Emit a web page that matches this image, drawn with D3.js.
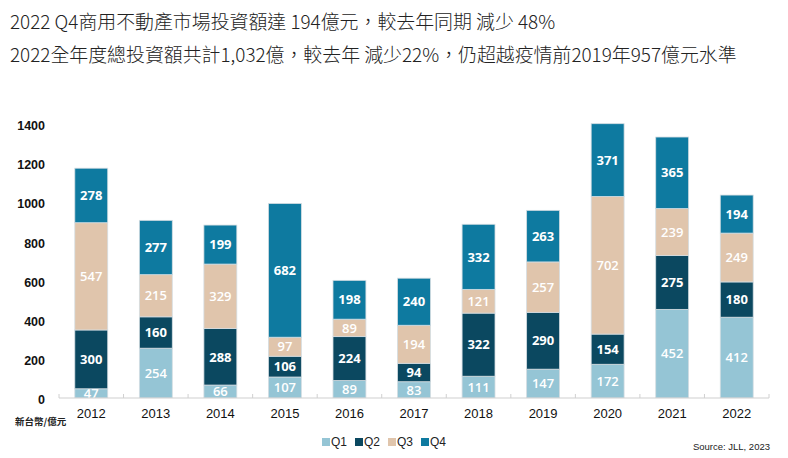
<!DOCTYPE html>
<html><head><meta charset="utf-8">
<script src="https://cdn.jsdelivr.net/npm/d3@7"></script>
<style>body{margin:0;background:#fff}svg{display:block}</style>
</head><body><svg id="c" width="788" height="458"></svg>
<script>
const years = ["2012","2013","2014","2015","2016","2017","2018","2019","2020","2021","2022"];
const q1 = [47,254,66,107,89,83,111,147,172,452,412];
const q2 = [300,160,288,106,224,94,322,290,154,275,180];
const q3 = [547,215,329,97,89,194,121,257,702,239,249];
const q4 = [278,277,199,682,198,240,332,263,371,365,194];
const seriesNames = ["Q1","Q2","Q3","Q4"];
const colors = ["#95c5d5","#0b4860","#e0c5ac","#0e7aa0"];
const yTicks = [0,200,400,600,800,1000,1200,1400];
const titleLines = ["2022 Q4商用不動產市場投資額達 194億元，較去年同期 減少 48%","2022全年度總投資額共計1,032億，較去年 減少22%，仍超越疫情前2019年957億元水準"];

const svg = d3.select("#c");
const table = years.map((y,i)=>({year:y,Q1:q1[i],Q2:q2[i],Q3:q3[i],Q4:q4[i]}));
const stacked = d3.stack().keys(seriesNames)(table);

const x = d3.scaleBand().domain(years).range([59,769]).paddingInner(0.49).paddingOuter(0.245);
const y = d3.scaleLinear().domain([0,1400]).range([398,123.5]);

// titles
svg.selectAll("text.title").data(titleLines).join("text")
  .attr("x",10).attr("y",(d,i)=>29+i*33)
  .attr("font-family","'Noto Sans CJK TC'").attr("font-weight",300)
  .attr("font-size",18.9).attr("fill","#222").text(d=>d);

// clip
svg.append("clipPath").attr("id","plot").append("rect").attr("x",0).attr("y",0).attr("width",788).attr("height",398);

const g = svg.append("g").attr("clip-path","url(#plot)");
stacked.forEach((s,si)=>{
  g.selectAll(null).data(s).join("rect")
   .attr("x",d=>x(d.data.year)).attr("width",x.bandwidth())
   .attr("y",d=>y(d[1])).attr("height",d=>y(d[0])-y(d[1]))
   .attr("fill",colors[si]).attr("stroke","#d4dde2").attr("stroke-width",0.8);
  g.selectAll(null).data(s).join("text")
   .attr("x",d=>x(d.data.year)+x.bandwidth()/2)
   .attr("y",d=>(y(d[0])+y(d[1]))/2)
   .attr("dy","0.36em").attr("text-anchor","middle")
   .attr("font-family","'Open Sans', 'Noto Sans', sans-serif")
   .attr("font-size",13).attr("font-weight",(si===1||si===3)?700:600)
   .attr("fill","#fff").text(d=>d.data[seriesNames[si]]);
});

// x axis
const xa = svg.append("g").attr("transform","translate(0,398)");
xa.append("line").attr("x1",59).attr("x2",769).attr("stroke","#d0d0d0").attr("stroke-width",1.2);
const bounds = years.map(yr=>x(yr)-x.step()*x.paddingInner()/2).concat([769]);
bounds[0]=59;
xa.selectAll("line.t").data(bounds).join("line").attr("class","t")
  .attr("x1",d=>d).attr("x2",d=>d).attr("y1",0).attr("y2",-4).attr("stroke","#d0d0d0");
xa.selectAll("text").data(years).join("text")
  .attr("x",d=>x(d)+x.bandwidth()/2).attr("y",20)
  .attr("text-anchor","middle").attr("font-family","'Liberation Sans', Arial, sans-serif")
  .attr("font-size",13).attr("fill","#111").text(d=>d);

// y axis labels
svg.selectAll("text.yt").data(yTicks).join("text").attr("class","yt")
  .attr("x",45).attr("y",d=>y(d)+2).attr("dy","0.35em").attr("text-anchor","end")
  .attr("font-family","'Liberation Sans', Arial, sans-serif").attr("font-weight",700)
  .attr("font-size",12.5).attr("fill","#111").text(d=>d);

svg.append("text").attr("x",15).attr("y",425).attr("font-family","'Noto Sans CJK TC'")
  .attr("font-weight",700).attr("font-size",9.5).attr("fill","#222").text("新台幣/億元");

// legend
const lg = svg.append("g").attr("transform","translate(322,442)");
seriesNames.forEach((n,i)=>{
  const gx = i*33;
  lg.append("rect").attr("x",gx).attr("y",-4).attr("width",8).attr("height",8).attr("fill",colors[i]);
  lg.append("text").attr("x",gx+9).attr("y",0).attr("dy","0.36em")
    .attr("font-family","'Liberation Sans', Arial, sans-serif").attr("font-size",12).attr("fill","#222").text(n);
});

svg.append("text").attr("x",770).attr("y",450).attr("text-anchor","end")
  .attr("font-family","'Liberation Sans', Arial, sans-serif").attr("font-size",9.5).attr("fill","#222").text("Source: JLL, 2023");
</script></body></html>
